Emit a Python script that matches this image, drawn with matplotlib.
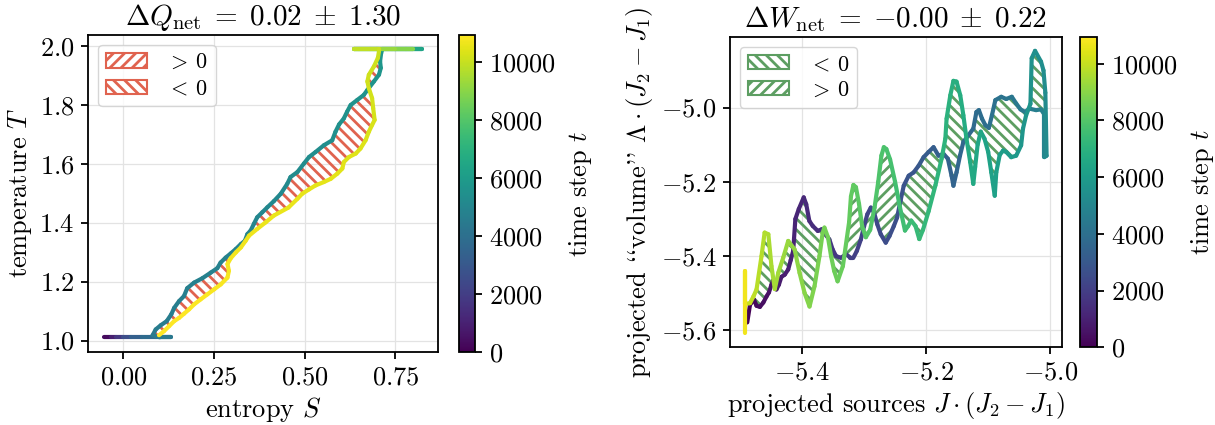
import numpy as np
import matplotlib
matplotlib.use("Agg")
import matplotlib.pyplot as plt
from matplotlib.collections import LineCollection
from matplotlib.patches import Polygon, Patch
from matplotlib import colors, cm

# ---------------- data: left panel (entropy S, temperature T, time step t) ----------------
S_bottom = [-0.053, -0.035, -0.02, 0.0, 0.02, 0.05, 0.09, 0.132, 0.10]
T_bottom = [1.011, 1.011, 1.011, 1.011, 1.011, 1.011, 1.011, 1.011, 1.011]
t_bottom = [0, 600, 1300, 2200, 3000, 3600, 4000, 4300, 4450]

S_up = [0.0805, 0.089, 0.103, 0.1195, 0.132, 0.140, 0.1535, 0.167, 0.176, 0.195, 0.218, 0.241,
        0.259, 0.268, 0.282, 0.296, 0.310, 0.324, 0.335, 0.342, 0.351, 0.360, 0.369, 0.383,
        0.397, 0.415, 0.434, 0.452, 0.461, 0.480, 0.498, 0.512, 0.530, 0.553, 0.576, 0.585,
        0.595, 0.608, 0.617, 0.627, 0.645, 0.663, 0.673, 0.691, 0.705, 0.710, 0.708, 0.711, 0.714]
T_up = [1.018, 1.0376, 1.052, 1.066, 1.089, 1.111, 1.134, 1.151, 1.178, 1.197, 1.212, 1.231,
        1.246, 1.265, 1.282, 1.296, 1.311, 1.328, 1.339, 1.362, 1.374, 1.397, 1.419, 1.436,
        1.453, 1.474, 1.499, 1.533, 1.556, 1.573, 1.602, 1.624, 1.641, 1.664, 1.681, 1.710,
        1.735, 1.755, 1.778, 1.801, 1.818, 1.835, 1.852, 1.881, 1.904, 1.927, 1.949, 1.978, 1.990]
t_up = [4500, 4530, 4550, 4560, 4600, 4620, 4660, 4680, 4710, 4740, 4760, 4790,
        4810, 4830, 4850, 4870, 4890, 4910, 4930, 4960, 4980, 5010, 5040, 5060,
        5080, 5110, 5140, 5190, 5220, 5240, 5280, 5310, 5330, 5360, 5390, 5430,
        5460, 5490, 5520, 5550, 5570, 5590, 5620, 5650, 5690, 5720, 5750, 5780, 5800]

S_top = [0.74, 0.78, 0.824, 0.75, 0.68, 0.636, 0.70, 0.80, 0.75, 0.70, 0.65, 0.636, 0.705]
T_top = [1.990, 1.990, 1.990, 1.990, 1.990, 1.990, 1.990, 1.990, 1.990, 1.990, 1.990, 1.990, 1.990]
t_top = [5900, 6000, 6100, 6700, 7200, 7600, 8200, 8700, 9100, 9400, 9700, 9800, 10000]

S_down = [0.705, 0.702, 0.691, 0.677, 0.673, 0.677, 0.686, 0.689, 0.693, 0.686, 0.677, 0.668,
          0.654, 0.641, 0.622, 0.608, 0.604, 0.590, 0.572, 0.553, 0.530, 0.512, 0.493, 0.480,
          0.455, 0.415, 0.3925, 0.369, 0.3465, 0.337, 0.324, 0.310, 0.296, 0.287, 0.291, 0.287,
          0.2685, 0.250, 0.2315, 0.213, 0.195, 0.181, 0.167, 0.1535, 0.140, 0.126, 0.112, 0.098]
T_down = [1.983, 1.961, 1.932, 1.9035, 1.881, 1.858, 1.824, 1.790, 1.750, 1.733, 1.710, 1.681,
          1.653, 1.636, 1.624, 1.607, 1.585, 1.5675, 1.550, 1.539, 1.5275, 1.514, 1.499, 1.482,
          1.452, 1.425, 1.402, 1.3795, 1.3566, 1.339, 1.3166, 1.2995, 1.280, 1.260, 1.237, 1.214,
          1.191, 1.174, 1.157, 1.140, 1.123, 1.106, 1.091, 1.077, 1.066, 1.049, 1.032, 1.018]
t_down = [10050, 10080, 10110, 10140, 10160, 10180, 10210, 10240, 10280, 10300, 10320, 10350,
          10380, 10400, 10410, 10430, 10450, 10470, 10490, 10500, 10510, 10530, 10540, 10560,
          10590, 10620, 10640, 10660, 10680, 10700, 10720, 10740, 10760, 10780, 10800, 10820,
          10840, 10850, 10870, 10880, 10900, 10910, 10920, 10930, 10935, 10940, 10945, 10950]

# ---------------- data: right panel (projected sources J, projected volume L, time step t) ----------------
J_fwd = [-5.488, -5.4835, -5.477, -5.473, -5.4676, -5.462, -5.457, -5.453, -5.449, -5.446,
         -5.4436, -5.441, -5.437, -5.433, -5.4276, -5.422, -5.418, -5.414, -5.4105, -5.405,
         -5.397, -5.393, -5.388, -5.3825, -5.3744, -5.368, -5.3626, -5.3558, -5.3505, -5.345,
         -5.337, -5.329, -5.322, -5.317, -5.3115, -5.305, -5.2998, -5.2946, -5.289, -5.2839,
         -5.2786, -5.273, -5.265, -5.259, -5.252, -5.2467, -5.241, -5.236, -5.228, -5.22,
         -5.212, -5.204, -5.196, -5.188, -5.18, -5.172, -5.165, -5.159, -5.156, -5.151,
         -5.1454, -5.14, -5.132, -5.124, -5.119, -5.115, -5.11, -5.1045, -5.099, -5.094,
         -5.0885, -5.079, -5.071, -5.062, -5.055, -5.048, -5.0406, -5.0336, -5.023, -5.015,
         -5.0096, -5.0096]
L_fwd = [-5.58, -5.532, -5.519, -5.535, -5.538, -5.526, -5.51, -5.499, -5.478, -5.466,
         -5.4825, -5.491, -5.478, -5.457, -5.451, -5.437, -5.412, -5.387, -5.301, -5.274,
         -5.2425, -5.261, -5.306, -5.3196, -5.333, -5.3285, -5.342, -5.3557, -5.383, -5.401,
         -5.4055, -5.396, -5.405, -5.405, -5.387, -5.356, -5.32, -5.288, -5.27, -5.283,
         -5.315, -5.342, -5.3647, -5.347, -5.32, -5.297, -5.25, -5.211, -5.184, -5.175,
         -5.157, -5.134, -5.12, -5.107, -5.13, -5.125, -5.138, -5.184, -5.211, -5.175,
         -5.1295, -5.093, -5.075, -5.057, -5.012, -5.007, -5.03, -5.048, -5.055, -5.021,
         -4.98, -4.971, -4.977, -4.971, -4.989, -5.005, -5.012, -5.003, -5.007, -5.005,
         -5.019, -5.134]
t_fwd = [0, 100, 200, 280, 350, 420, 480, 540, 600, 650,
         700, 740, 790, 840, 900, 960, 1010, 1050, 1100, 1150,
         1220, 1270, 1330, 1390, 1460, 1520, 1580, 1650, 1710, 1770,
         1840, 1910, 1970, 2020, 2070, 2130, 2180, 2230, 2280, 2330,
         2380, 2430, 2500, 2560, 2620, 2670, 2720, 2770, 2840, 2910,
         2980, 3050, 3120, 3190, 3260, 3330, 3390, 3440, 3470, 3510,
         3560, 3610, 3680, 3750, 3800, 3840, 3880, 3930, 3980, 4020,
         4070, 4150, 4220, 4300, 4360, 4420, 4490, 4550, 4650, 4720,
         4800, 5150]

J_back = [-5.006, -5.008, -5.011, -5.015, -5.0246, -5.03, -5.031, -5.032, -5.039, -5.044,
          -5.047, -5.055, -5.063, -5.071, -5.076, -5.0815, -5.087, -5.0895, -5.095, -5.10,
          -5.106, -5.112, -5.117, -5.121, -5.124, -5.129, -5.135, -5.14, -5.145, -5.151,
          -5.156, -5.161, -5.167, -5.169, -5.175, -5.185, -5.196, -5.205, -5.211, -5.217,
          -5.224, -5.229, -5.234, -5.242, -5.25, -5.258, -5.264, -5.268, -5.272, -5.277,
          -5.283, -5.29, -5.297, -5.303, -5.308, -5.313, -5.317, -5.321, -5.324, -5.334,
          -5.3425, -5.348, -5.353, -5.358, -5.3637, -5.3665, -5.3717, -5.3797, -5.3877, -5.3957,
          -5.4037, -5.4117, -5.422, -5.43, -5.438, -5.4436, -5.449, -5.454, -5.46, -5.465,
          -5.473, -5.478, -5.4835, -5.4915, -5.4915, -5.4915]
L_back = [-5.13, -4.96, -4.90, -4.876, -4.847, -4.867, -4.93, -4.99, -5.021, -5.057,
          -5.102, -5.13, -5.134, -5.12, -5.116, -5.128, -5.175, -5.238, -5.175, -5.12,
          -5.084, -5.065, -5.10, -5.16, -5.206, -5.147, -5.084, -5.021, -4.967, -4.93,
          -4.928, -4.967, -5.03, -5.084, -5.138, -5.21, -5.28, -5.33, -5.355, -5.32,
          -5.305, -5.32, -5.332, -5.27, -5.2, -5.14, -5.112, -5.107, -5.13, -5.2,
          -5.27, -5.33, -5.35, -5.32, -5.26, -5.215, -5.209, -5.24, -5.31, -5.428,
          -5.469, -5.441, -5.401, -5.35, -5.324, -5.3375, -5.401, -5.4825, -5.537, -5.5,
          -5.446, -5.383, -5.36, -5.405, -5.446, -5.49, -5.428, -5.342, -5.3375, -5.401,
          -5.491, -5.51, -5.528, -5.53, -5.442, -5.609]
t_back = [5200, 5300, 5360, 5400, 5460, 5510, 5560, 5620, 5680, 5730,
          5780, 5850, 5920, 5990, 6040, 6090, 6150, 6200, 6260, 6320,
          6380, 6440, 6490, 6540, 6580, 6640, 6700, 6750, 6800, 6860,
          6900, 6950, 7000, 7040, 7090, 7170, 7250, 7320, 7370, 7420,
          7470, 7510, 7550, 7610, 7670, 7730, 7780, 7810, 7850, 7900,
          7950, 8010, 8070, 8120, 8170, 8210, 8240, 8280, 8320, 8400,
          8460, 8510, 8550, 8600, 8650, 8680, 8730, 8800, 8870, 8950,
          9030, 9110, 9220, 9310, 9400, 9460, 9520, 9580, 9650, 9710,
          9800, 9870, 9950, 10100, 10500, 10950]

# bands (along the horizontal axis) where the enclosed lobes are hatched as "> 0"
pos_bands_left = []
pos_bands_right = [(-5.335, -5.245)]

t_max = 10950
titles = [r"$\Delta Q_{\rm net} \;=\; 0.02 \;\pm\; 1.30$",
          r"$\Delta W_{\rm net} \;=\; {-}0.00 \;\pm\; 0.22$"]

# ---------------- style ----------------
FS = 19
plt.rcParams.update({
    "font.family": ["cmr10", "DejaVu Serif"],
    "mathtext.fontset": "cm",
    "axes.formatter.use_mathtext": True,
    "font.size": FS,
    "hatch.linewidth": 2.0,
    "axes.linewidth": 1.3,
    "xtick.major.width": 1.3,
    "ytick.major.width": 1.3,
    "xtick.major.size": 5,
    "ytick.major.size": 5,
    "legend.fontsize": 16,
})

RED = "#e0634f"
GREEN = "#5d9e62"
HATCH_POS = "///"
HATCH_NEG = "\\\\\\"
norm = colors.Normalize(vmin=0, vmax=t_max)


def draw_path(ax, x, y, t, lw=3.0):
    pts = np.column_stack([x, y])
    t = np.asarray(t, dtype=float)
    segs = np.stack([pts[:-1], pts[1:]], axis=1)
    lc = LineCollection(segs, cmap="viridis", norm=norm, linewidths=lw,
                        capstyle="round", joinstyle="round", zorder=3)
    lc.set_array(0.5 * (t[:-1] + t[1:]))
    ax.add_collection(lc)


def crossings(F, R):
    out = []
    for i in range(len(F) - 1):
        p = F[i]
        r = F[i + 1] - p
        for j in range(len(R) - 1):
            q = R[j]
            s = R[j + 1] - q
            den = r[0] * s[1] - r[1] * s[0]
            if den == 0:
                continue
            d = q - p
            a = (d[0] * s[1] - d[1] * s[0]) / den
            b = (d[0] * r[1] - d[1] * r[0]) / den
            if 0 <= a < 1 and 0 <= b < 1:
                out.append((i + a, j + b))
    out.sort()
    kept = []
    for fa, rb in out:
        if not kept or rb < kept[-1][1]:
            kept.append((fa, rb))
    return kept


def point_at(P, u):
    i = min(int(np.floor(u)), len(P) - 2)
    return P[i] + (P[i + 1] - P[i]) * (u - i)


def piece(P, a, b):
    inner = [P[k] for k in range(len(P)) if a < k < b]
    return [point_at(P, a)] + inner + [point_at(P, b)]


def lobes(F, R):
    c = crossings(F, R)
    fs = [0.0] + [fa for fa, _ in c] + [float(len(F) - 1)]
    rs = [float(len(R) - 1)] + [rb for _, rb in c] + [0.0]
    return [np.array(piece(F, fs[k], fs[k + 1]) + piece(R, rs[k + 1], rs[k]))
            for k in range(len(fs) - 1)]


def fill_lobes(ax, F, R, color, pos_bands):
    for poly in lobes(F, R):
        cx = poly[:, 0].mean()
        positive = any(a <= cx <= b for a, b in pos_bands)
        ax.add_patch(Polygon(poly, closed=True, facecolor="none", edgecolor=color,
                             hatch=HATCH_POS if positive else HATCH_NEG,
                             linewidth=0, zorder=2))


def style_axes(ax):
    ax.grid(True, color="#e3e3e3", lw=0.9)
    ax.set_axisbelow(True)
    ax.tick_params(pad=5)


fig = plt.figure(figsize=(12.15, 4.25), dpi=100)
ax1 = fig.add_axes([0.0727, 0.1725, 0.2878, 0.7451])
cax1 = fig.add_axes([0.3778, 0.1725, 0.0132, 0.7451])
ax2 = fig.add_axes([0.6008, 0.1828, 0.2730, 0.7308])
cax2 = fig.add_axes([0.8892, 0.1828, 0.0136, 0.7308])

leg_kw = dict(loc="upper left", handlelength=1.85, handleheight=0.6, handletextpad=0.9,
              borderpad=0.35, labelspacing=0.3, borderaxespad=0.45)

# left panel
F1 = np.column_stack([S_up, T_up])
R1 = np.column_stack([S_down, T_down])
fill_lobes(ax1, F1, R1, RED, pos_bands_left)
draw_path(ax1,
          S_bottom + S_up + S_top + S_down,
          T_bottom + T_up + T_top + T_down,
          t_bottom + t_up + t_top + t_down)
ax1.autoscale_view()
ax1.set_xticks([0.0, 0.25, 0.5, 0.75])
ax1.set_yticks([1.0, 1.2, 1.4, 1.6, 1.8, 2.0])
ax1.set_xlabel(r"entropy $S$", labelpad=4)
ax1.set_ylabel(r"temperature $T$", labelpad=4)
ax1.set_title(titles[0], fontsize=21, pad=7)
style_axes(ax1)
h1 = [Patch(facecolor="white", edgecolor=RED, hatch=HATCH_POS, lw=1.5, label=r"$>\,0$"),
      Patch(facecolor="white", edgecolor=RED, hatch=HATCH_NEG, lw=1.5, label=r"$<\,0$")]
ax1.legend(handles=h1, **leg_kw)

# right panel
F2 = np.column_stack([J_fwd, L_fwd])
R2 = np.column_stack([J_back, L_back])
fill_lobes(ax2, F2, R2, GREEN, pos_bands_right)
draw_path(ax2, J_fwd + J_back, L_fwd + L_back, t_fwd + t_back)
ax2.autoscale_view()
ax2.set_xticks([-5.4, -5.2, -5.0])
ax2.set_yticks([-5.6, -5.4, -5.2, -5.0])
ax2.set_xlabel(r"projected sources $J\cdot(J_2-J_1)$", labelpad=4)
ax2.set_ylabel(r"projected ``volume'' $\Lambda\cdot(J_2-J_1)$", labelpad=4)
ax2.set_title(titles[1], fontsize=21, pad=7)
style_axes(ax2)
h2 = [Patch(facecolor="white", edgecolor=GREEN, hatch=HATCH_NEG, lw=1.5, label=r"$<\,0$"),
      Patch(facecolor="white", edgecolor=GREEN, hatch=HATCH_POS, lw=1.5, label=r"$>\,0$")]
ax2.legend(handles=h2, **leg_kw)

for cax in (cax1, cax2):
    sm = cm.ScalarMappable(norm=norm, cmap="viridis")
    cb = fig.colorbar(sm, cax=cax)
    cb.set_ticks([0, 2000, 4000, 6000, 8000, 10000])
    cb.set_label(r"time step $t$", labelpad=8)
    cb.outline.set_linewidth(1.3)
    cax.tick_params(pad=5)

fig.savefig("out.png", dpi=100, facecolor="white")
